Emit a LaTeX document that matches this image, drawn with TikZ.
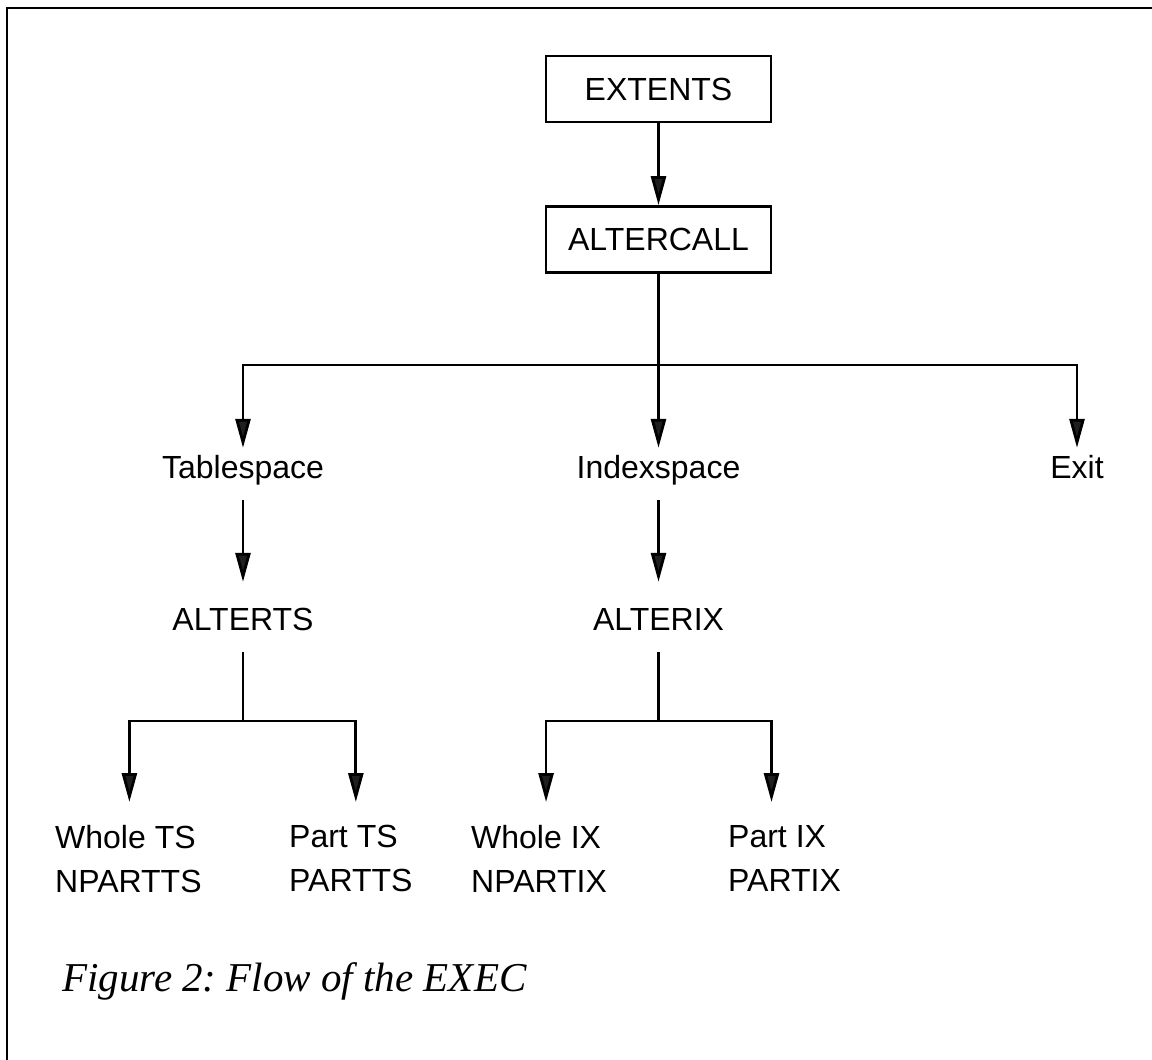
\documentclass[tikz,border=0pt]{standalone}
\usepackage{fontspec}
\setmainfont{Liberation Sans}
\newfontfamily\capfont{Liberation Serif}
\usetikzlibrary{arrows.meta}
\begin{document}
\frenchspacing
\begin{tikzpicture}[x=1pt,y=-1pt,
  lw/.style={line width=2.8pt},
  arr/.style={lw, -{Triangle[length=29pt,width=15pt,fill=black!88]}},
  boxnode/.style={draw, lw, minimum width=225pt, minimum height=66pt, inner sep=0pt, font=\fontsize{32}{36}\selectfont},
  lbl/.style={inner sep=0pt, text height=23pt, text depth=7pt, font=\fontsize{32}{36}\selectfont},
  leaf/.style={inner sep=0pt, align=left, anchor=north west, font=\fontsize{32}{44}\selectfont},
  frame/.style={line width=2pt}
]
\useasboundingbox (0,0) rectangle (1152,1060);
\draw[frame] (7,1060) -- (7,8) -- (1152,8);

\node[boxnode] (ext) at (658.5,89) {EXTENTS};
\node[boxnode] (alc) at (658.5,239.5) {ALTERCALL};

\node[lbl] (ts) at (243,470) {Tablespace};
\node[lbl] (is) at (658.5,470) {Indexspace};
\node[lbl] (ex) at (1077,470) {Exit};
\node[lbl] (ats) at (243,622) {ALTERTS};
\node[lbl] (aix) at (658.5,622) {ALTERIX};

\coordinate (hub) at (658.5,365);
\coordinate (hts) at (243,721);
\coordinate (hix) at (658.5,721);

\node[leaf] (wts) at (55,825) {Whole TS\\NPARTTS};
\node[leaf] (pts) at (289,825) {Part TS\\PARTTS};
\node[leaf] (wix) at (471,825) {Whole IX\\NPARTIX};
\node[leaf] (pix) at (728,825) {Part IX\\PARTIX};

\node[anchor=base west, inner sep=0pt, font=\capfont\itshape\fontsize{41}{48}\selectfont] (cap) at (62,991) {Figure 2: Flow of the EXEC};

\draw[arr] (ext) -- (alc);
\draw[lw] (alc.south) -- (hub);
\draw[arr, shorten >=7pt] (hub) -| (ts.north);
\draw[arr, shorten >=7pt] (hub) -- (is.north);
\draw[arr, shorten >=7pt] (hub) -| (ex.north);
\draw[arr, shorten <=15pt, shorten >=25pt] (ts.south) -- (ats.north);
\draw[arr, shorten <=15pt, shorten >=25pt] (is.south) -- (aix.north);
\draw[lw, shorten <=15pt] (ats.south) -- (hts);
\draw[lw, shorten <=15pt] (aix.south) -- (hix);
\draw[arr, shorten >=23pt] (hts) -| ([xshift=1pt]wts.north);
\draw[arr, shorten >=23pt] (hts) -| ([xshift=5pt]pts.north);
\draw[arr, shorten >=23pt] (hix) -| ([xshift=7pt]wix.north);
\draw[arr, shorten >=23pt] (hix) -| ([xshift=-13pt]pix.north);
\end{tikzpicture}
\end{document}
